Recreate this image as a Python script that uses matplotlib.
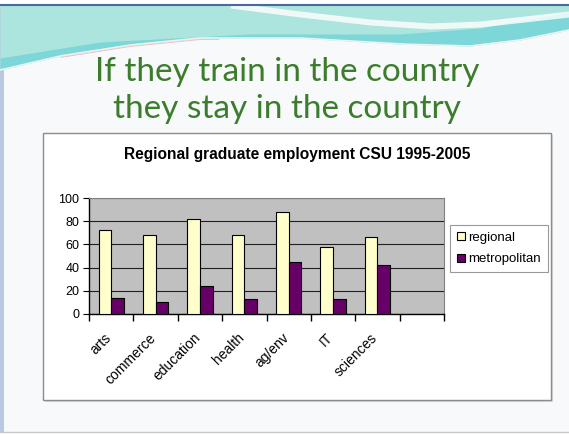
import numpy as np
import matplotlib.pyplot as plt
from matplotlib.patches import Rectangle
import matplotlib.transforms as mtransforms

categories = ['arts', 'commerce', 'education', 'health', 'ag/env', 'IT', 'sciences']
regional = [72, 68, 82, 68, 88, 58, 66]
metropolitan = [14, 10, 24, 13, 45, 13, 42]
y_ticks = [0, 20, 40, 60, 80, 100]

W, H = 569, 437
fig = plt.figure(figsize=(W / 100, H / 100), dpi=100)
fig.patch.set_facecolor('white')

# slide background drawn in pixel coordinates
bg = fig.add_axes([0, 0, 1, 1])
bg.set_xlim(0, W)
bg.set_ylim(H, 0)
bg.axis('off')
bg.add_patch(Rectangle((0, 4), W, 428, facecolor='#f8f9fb', edgecolor='none'))
bg.add_patch(Rectangle((0, 4), 4, 428, facecolor='#b9c9e0', edgecolor='none'))
bg.plot([0, W], [432, 432], color='#c8c8cc', lw=1)

# wavy header band
xs = np.linspace(0, W, 300)
lower = np.interp(xs, [0, 60, 130, 200, 300, 400, 470, 520, 569],
                  [70, 56, 45, 38, 38, 44, 46, 40, 30])
bg.fill_between(xs, 5, lower, color='#ace5dd', lw=0)
# brighter teal under the white streak
streak_top = np.interp(xs, [0, 100, 250, 400, 480, 569], [58, 42, 34, 34, 28, 12])
bg.fill_between(xs, streak_top, lower, color='#7dd6d8', lw=0)
streak = np.interp(xs, [230, 300, 370, 430, 480, 569], [5, 14, 22, 26, 24, 14])
mask = xs >= 230
bg.fill_between(xs[mask], streak[mask] - 3, streak[mask] + 3, color='white', alpha=0.8, lw=0)
bg.plot(xs, lower, color='#e8f4f4', lw=1.2)
pink = (xs > 60) & (xs < 220)
bg.plot(xs[pink], lower[pink] + 1.5, color='#e6a0a8', lw=0.6, alpha=0.7)
bg.plot([0, W], [4.5, 4.5], color='#4a6a9a', lw=1.5)

bg.text(287, 72, 'If they train in the country', fontsize=24, color='#3b7d2c',
        family='Lato', ha='center', va='center')
bg.text(287, 109, 'they stay in the country', fontsize=24, color='#3b7d2c',
        family='Lato', ha='center', va='center')

# chart frame
bg.add_patch(Rectangle((45, 135), 508, 267, facecolor='#d8d8d8', edgecolor='none'))
bg.add_patch(Rectangle((43, 133), 508, 267, facecolor='white', edgecolor='#8c8c8c', lw=1))
bg.text(297, 155, 'Regional graduate employment CSU 1995-2005', fontsize=11.2,
        fontweight='bold', family='Liberation Sans', ha='center', va='center')

ax = fig.add_axes([89 / W, 1 - 314 / H, (444 - 89) / W, (314 - 198) / H])
ax.set_facecolor('#c0c0c0')
n_slots = len(categories) + 1
x = np.arange(len(categories))
w = 0.285
b1 = ax.bar(x - w / 2, regional, w, color='#ffffcc', edgecolor='black', lw=0.8, label='regional', zorder=3)
b2 = ax.bar(x + w / 2, metropolitan, w, color='#660066', edgecolor='black', lw=0.8, label='metropolitan', zorder=3)
ax.set_xlim(-0.5, n_slots - 0.5)
ax.set_ylim(0, 100)
ax.set_yticks(y_ticks)
ax.yaxis.grid(True, color='#202020', lw=0.8, zorder=1)
ax.set_axisbelow(True)
for s in ['top', 'right']:
    ax.spines[s].set_color('#808080')
for s in ['left', 'bottom']:
    ax.spines[s].set_color('black')
    ax.spines[s].set_linewidth(1.0)
ax.tick_params(axis='y', length=4, direction='out', labelsize=9, pad=3)
ax.set_xticks(np.arange(-0.5, n_slots, 1.0), minor=True)
ax.tick_params(axis='x', which='minor', length=5, direction='out', width=1)
ax.set_xticks(x)
ax.set_xticklabels(categories, rotation=45, ha='right', rotation_mode='anchor', fontsize=10)
ax.tick_params(axis='x', which='major', length=0, pad=12)
offset = mtransforms.ScaledTranslation(-7 / 100, 0, fig.dpi_scale_trans)
for lbl in ax.get_xticklabels():
    lbl.set_transform(lbl.get_transform() + offset)
for lbl in ax.get_xticklabels() + ax.get_yticklabels():
    lbl.set_family('Liberation Sans')

leg = fig.legend(handles=[b1, b2], loc='upper left', bbox_to_anchor=(450 / W, 1 - 225 / H),
                 frameon=True, fancybox=False, edgecolor='#808080',
                 prop={'family': 'Liberation Sans', 'size': 9.5},
                 handlelength=0.6, handleheight=0.6, handletextpad=0.3,
                 borderpad=0.5, labelspacing=0.75, borderaxespad=0)
leg.get_frame().set_linewidth(0.8)

fig.savefig('out.png', dpi=100)
